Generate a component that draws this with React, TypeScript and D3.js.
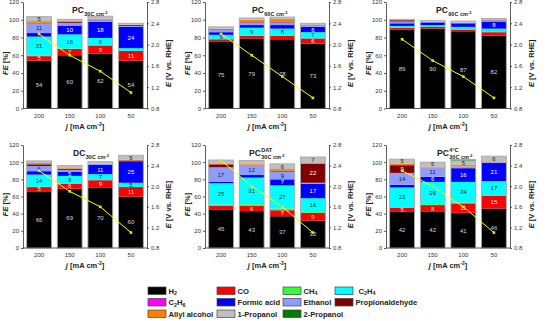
import React, { useEffect, useRef } from "react";
import * as d3 from "d3";

// current densities on the x axis (mA cm-2)
const currents = ["200", "150", "100", "50"];

const products = [
  "H2", "CO", "CH4", "C2H4", "C2H6", "Formic acid",
  "Ethanol", "Propionaldehyde", "Allyl alcohol", "1-Propanol", "2-Propanol",
];
const productColors = [
  "#000000", "#ff0000", "#33ff33", "#00ffff", "#ff00ff", "#0000ff",
  "#8f9cff", "#800000", "#ff8000", "#bfbfbf", "#007a00",
];
// text colour used for the value printed inside each segment
const labelColors = [
  "#d8d8d8", "#ffe0e0", "#222", "#222", "#fff", "#ffffff",
  "#222", "#ffffff", "#222", "#222", "#fff",
];

// Faradaic efficiencies [%], one row per current density, columns follow `products`
const pc30 = [
  [54, 5, 1, 21, 0, 4, 11, 0.5, 2, 5, 0],
  [60, 7, 0.5, 16, 0, 10, 3, 1, 1, 2, 0],
  [62, 9, 0.5, 8, 0, 18, 2, 0.5, 1, 3, 0],
  [54, 11, 0, 3, 0, 24, 1, 1, 0.5, 1.5, 0],
];
const pc60 = [
  [75, 3, 0, 5, 0, 3, 3, 0.5, 0.5, 2, 0],
  [79, 3, 0, 9, 0, 3, 3, 1, 2, 2, 0],
  [78, 4, 0, 8, 0, 4, 3, 1, 3, 2, 0],
  [73, 6, 0, 7, 0, 6, 1, 0.5, 0.5, 2, 0],
];
const pc90 = [
  [89, 2, 0, 2, 0, 3, 2, 1.5, 0, 1, 0],
  [90, 2, 0, 2, 0, 3, 1, 0, 0, 1, 0],
  [87, 2, 0, 3, 0, 4, 1, 0, 0, 1.5, 0],
  [82, 4, 0, 4, 0, 8, 1, 0.5, 0, 2, 0],
];
const dc30 = [
  [66, 5, 0.5, 14, 0, 4, 6, 2, 1.5, 2.5, 0],
  [69, 6, 0, 9, 0, 5, 2, 1, 1, 3, 0],
  [70, 9, 0, 7, 0, 11, 1, 0, 0.5, 2, 0],
  [60, 11, 0, 5, 0, 25, 0, 1, 1, 5, 0],
];
const pcDat = [
  [45, 4, 1.5, 25, 0, 1.5, 17, 3.5, 1, 4, 0],
  [43, 6, 2, 31, 0, 3, 12, 0, 1, 4, 0],
  [37, 7, 2, 27, 0, 7, 9, 1, 2, 6, 0],
  [32, 9, 1, 16, 0, 17, 1, 22, 1, 7, 0],
];
const pc4 = [
  [42, 5, 0.5, 23, 0, 3, 14, 9, 2, 5, 0],
  [42, 8, 1, 26, 0, 6, 11, 0, 1, 5, 0],
  [41, 11, 1, 24, 0, 16, 2, 0, 2, 5, 1],
  [46, 15, 0, 17, 0, 21, 1, 0, 1, 6, 0],
];

// cell potentials [V vs. RHE]
const ePc30 = [2.2, 1.8, 1.5, 1.1];
const ePc60 = [2.2, 1.8, 1.4, 1.0];
const ePc90 = [2.1, 1.7, 1.4, 1.0];
const eDc30 = [2.3, 1.9, 1.6, 1.1];
const ePcDat = [2.5, 2.0, 1.6, 1.1];
const ePc4 = [2.3, 2.0, 1.6, 1.1];

const feTicks = [0, 20, 40, 60, 80, 100, 120];
const eTicks = [0.8, 1.2, 1.6, 2.0, 2.4, 2.8];

const legendRows = [
  ["H2", "CO", "CH4", "C2H4"],
  ["C2H6", "Formic acid", "Ethanol", "Propionaldehyde"],
  ["Allyl alcohol", "1-Propanol", "2-Propanol"],
];

const FONT = "'Liberation Sans', Arial, sans-serif";
const ROW_TOP = [2, 145];
const ROW_BOTTOM = [108.5, 248];
const COL_LEFT = [23, 205, 386];
const PLOT_W = 124;

const panels = [
  { fe: pc30, e: ePc30, main: "PC", sup: "", sub: "30C", row: 0, col: 0, tx: 49 },
  { fe: pc60, e: ePc60, main: "PC", sup: "", sub: "60C", row: 0, col: 1, tx: 47 },
  { fe: pc90, e: ePc90, main: "PC", sup: "", sub: "90C", row: 0, col: 2, tx: 50 },
  { fe: dc30, e: eDc30, main: "DC", sup: "", sub: "30C", row: 1, col: 0, tx: 50 },
  { fe: pcDat, e: ePcDat, main: "PC", sup: "DAT", sub: "30C", row: 1, col: 1, tx: 44 },
  { fe: pc4, e: ePc4, main: "PC", sup: "4°C", sub: "30C", row: 1, col: 2, tx: 51 },
];

// writes chemical formulas with subscripted digits (H2 -> H₂)
function formula(text, name, size) {
  if (/^[0-9]-/.test(name) || !/[A-Z][0-9]/.test(name)) {
    text.text(name);
    return;
  }
  let low = false;
  name.split(/([0-9]+)/).forEach((p) => {
    if (!p) return;
    const isNum = /^[0-9]+$/.test(p);
    const t = text.append("tspan").text(p);
    if (isNum) {
      t.attr("font-size", size * 0.7).attr("dy", low ? 0 : 1.8);
      low = true;
    } else if (low) {
      t.attr("dy", -1.8);
      low = false;
    }
  });
}

const App = () => {
  const ref = useRef(null);

  useEffect(() => {
    const svg = d3.select(ref.current);
    svg.selectAll("*").remove();
    const root = svg.append("g").attr("font-family", FONT);

    panels.forEach((p) => {
      const left = COL_LEFT[p.col];
      const right = left + PLOT_W;
      const top = ROW_TOP[p.row];
      const bottom = ROW_BOTTOM[p.row];
      const g = root.append("g");

      const x = d3.scaleBand().domain(currents).range([left, right]).paddingInner(0.19).paddingOuter(0.12);
      const y = d3.scaleLinear().domain([0, 120]).range([bottom, top]);
      const yE = d3.scaleLinear().domain([0.8, 2.8]).range([bottom, top]);

      // stacked bars
      const series = d3.stack().keys(d3.range(products.length))(p.fe);
      series.forEach((s, k) => {
        g.selectAll(null)
          .data(s)
          .enter()
          .append("rect")
          .attr("x", (d, i) => x(currents[i]))
          .attr("width", x.bandwidth())
          .attr("y", (d) => y(d[1]))
          .attr("height", (d) => Math.max(0, y(d[0]) - y(d[1])))
          .attr("fill", productColors[k]);
      });
      // thin outline round each bar
      g.selectAll(null)
        .data(p.fe)
        .enter()
        .append("rect")
        .attr("x", (d, i) => x(currents[i]))
        .attr("width", x.bandwidth())
        .attr("y", (d) => y(d3.sum(d)))
        .attr("height", (d) => y(0) - y(d3.sum(d)))
        .attr("fill", "none")
        .attr("stroke", "#a8a8a8")
        .attr("stroke-width", 0.9);
      // values inside the larger segments
      series.forEach((s, k) => {
        g.selectAll(null)
          .data(s.map((d, i) => ({ d, i })).filter((o) => o.d[1] - o.d[0] >= 5))
          .enter()
          .append("text")
          .attr("x", (o) => x(currents[o.i]) + x.bandwidth() / 2)
          .attr("y", (o) => y((o.d[0] + o.d[1]) / 2) + 2.1)
          .attr("text-anchor", "middle")
          .attr("font-size", 6)
          .attr("fill", labelColors[k])
          .text((o) => Math.round(o.d[1] - o.d[0]));
      });

      // potential line
      const line = d3.line().x((d, i) => x(currents[i]) + x.bandwidth() / 2).y((d) => yE(d));
      g.append("path").attr("d", line(p.e)).attr("fill", "none").attr("stroke", "#ffff00").attr("stroke-width", 1);
      g.selectAll(null)
        .data(p.e)
        .enter()
        .append("rect")
        .attr("x", (d, i) => x(currents[i]) + x.bandwidth() / 2 - 1.3)
        .attr("y", (d) => yE(d) - 1.3)
        .attr("width", 2.6)
        .attr("height", 2.6)
        .attr("fill", "#e6e600");

      // axes
      const styleAxis = (a) => {
        a.selectAll("path").attr("stroke", "#333").attr("stroke-width", 0.8);
        a.selectAll("line").attr("stroke", "#333").attr("stroke-width", 0.8);
        a.selectAll("text").attr("font-size", 6).attr("fill", "#333").attr("font-family", FONT);
      };
      const ax = g.append("g").attr("transform", `translate(0,${bottom})`)
        .call(d3.axisBottom(x).tickSize(0).tickSizeOuter(0).tickPadding(5));
      styleAxis(ax);
      ax.select(".domain").attr("d", `M${left},0H${right}`);
      const ayl = g.append("g").attr("transform", `translate(${left},0)`)
        .call(d3.axisLeft(y).tickValues(feTicks).tickSize(2).tickSizeOuter(0).tickPadding(2));
      styleAxis(ayl);
      const ayr = g.append("g").attr("transform", `translate(${right},0)`)
        .call(d3.axisRight(yE).tickValues(eTicks).tickFormat(d3.format(".1f")).tickSize(2).tickSizeOuter(0).tickPadding(2));
      styleAxis(ayr);

      // axis titles
      const mid = (top + bottom) / 2 + 8;
      const fe = g.append("text")
        .attr("transform", `translate(${left - 15},${mid}) rotate(-90)`)
        .attr("text-anchor", "middle").attr("font-size", 7.5).attr("font-weight", "bold").attr("fill", "#222");
      fe.append("tspan").attr("font-style", "italic").text("FE");
      fe.append("tspan").text(" [%]");
      const et = g.append("text")
        .attr("transform", `translate(${right + 24},${mid}) rotate(-90)`)
        .attr("text-anchor", "middle").attr("font-size", 7.5).attr("font-weight", "bold").attr("fill", "#222");
      et.append("tspan").attr("font-style", "italic").text("E");
      et.append("tspan").text(" [V vs. RHE]");
      const jt = g.append("text")
        .attr("x", (left + right) / 2).attr("y", bottom + 20)
        .attr("text-anchor", "middle").attr("font-size", 7.5).attr("font-weight", "bold").attr("fill", "#222");
      jt.append("tspan").attr("font-style", "italic").text("j");
      jt.append("tspan").text(" [mA cm");
      jt.append("tspan").attr("font-size", 5).attr("dy", -3).text("-2");
      jt.append("tspan").attr("dy", 3).text("]");

      // panel title
      const ty = top + 11;
      const tx = left + p.tx;
      const main = g.append("text").attr("x", tx).attr("y", ty)
        .attr("font-size", 8.5).attr("font-weight", "bold").attr("fill", "#222").text(p.main);
      const w = main.node().getComputedTextLength();
      if (p.sup) {
        g.append("text").attr("x", tx + w + 0.5).attr("y", ty - 4)
          .attr("font-size", 5.5).attr("font-weight", "bold").attr("fill", "#222").text(p.sup);
      }
      const sub = g.append("text").attr("x", tx + w + 0.5).attr("y", ty + 2.5)
        .attr("font-size", 5.5).attr("font-weight", "bold").attr("fill", "#222");
      sub.append("tspan").text(p.sub + " cm");
      sub.append("tspan").attr("font-size", 4).attr("dy", -2).text("-2");
    });

    // legend
    const colX = [148, 217, 283, 335];
    const rowY = [287, 298.5, 310];
    const leg = root.append("g");
    legendRows.forEach((r, ri) => {
      r.forEach((name, ci) => {
        const k = products.indexOf(name);
        leg.append("rect")
          .attr("x", colX[ci]).attr("y", rowY[ri])
          .attr("width", 18).attr("height", 7.5)
          .attr("fill", productColors[k]).attr("stroke", "#444").attr("stroke-width", 0.7);
        const t = leg.append("text")
          .attr("x", colX[ci] + 20.5 + (name === "C2H4" ? 3 : 0)).attr("y", rowY[ri] + 6.5)
          .attr("font-size", 7.6).attr("font-weight", "bold").attr("fill", "#222");
        formula(t, name, 7.6);
      });
    });
  }, []);

  return (
    <svg ref={ref} width={546} height={321}
      style={{ position: "absolute", left: 0, top: 0, background: "#fff" }} />
  );
};

export default App;
